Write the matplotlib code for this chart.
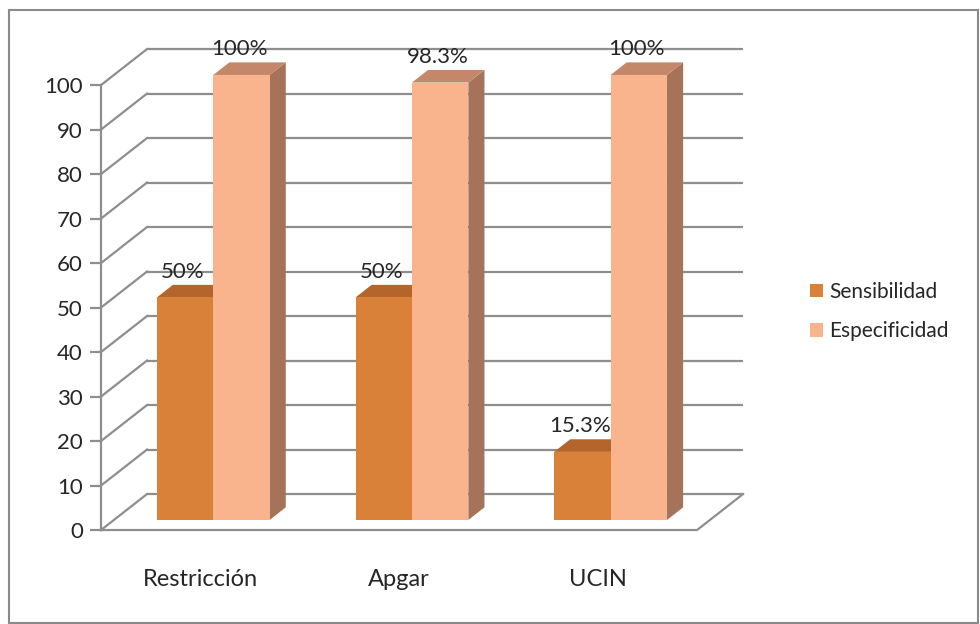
import matplotlib
matplotlib.use("Agg")
import matplotlib.pyplot as plt
from matplotlib.patches import Polygon, Patch, Rectangle

plt.rcParams["font.family"] = ["Lato", "DejaVu Sans"]

# ── data ──────────────────────────────────────────────────────────────────
categories = ["Restricción", "Apgar", "UCIN"]
series = ["Sensibilidad", "Especificidad"]
sensibilidad = [50, 50, 15.3]
especificidad = [100, 98.3, 100]
value_labels = [["50%", "50%", "15.3%"], ["100%", "98.3%", "100%"]]
yticks = list(range(0, 101, 10))

# ── 3-D look: oblique depth offset in data units ──────────────────────────
DX, DY = 0.2315, 8.09          # full depth of the wall / floor
D0, D1 = 0.28, 0.63            # front and back of the bars (fraction of depth)
BAR_W = 0.284
FRONT = ["#D98039", "#F9B48D"]
TOP = ["#B3652C", "#C4876A"]
SIDE = ["#9E5A2A", "#A4735A"]
GRID = "#8E8E8E"
TXT = "#262626"

fig = plt.figure(figsize=(9.8, 6.24), dpi=100)
ax = fig.add_axes([0.1031, 0.1506, 0.6082, 0.7131])
ax.set_xlim(0, len(categories))
ax.set_ylim(0, 100)

# walls: back gridlines, left wall diagonals, floor
for v in yticks:
    ax.plot([DX, len(categories) + DX], [v + DY, v + DY], color=GRID, lw=1.6,
            clip_on=False, zorder=1, solid_capstyle="butt")
    ax.plot([0, DX], [v, v + DY], color=GRID, lw=1.6, clip_on=False, zorder=1)
n = len(categories)
ax.plot([0, n, n + DX], [0, 0, DY], color=GRID, lw=1.6, clip_on=False, zorder=1)


def bar3d(x0, h, j):
    xf, yf = x0 + D0 * DX, D0 * DY
    xb, yb = x0 + D1 * DX, D1 * DY
    front = Rectangle((xf, yf), BAR_W, h, facecolor=FRONT[j], edgecolor="none")
    top = Polygon([(xf, yf + h), (xf + BAR_W, yf + h), (xb + BAR_W, yb + h), (xb, yb + h)],
                  closed=True, facecolor=TOP[j], edgecolor="none")
    side = Polygon([(xf + BAR_W, yf), (xb + BAR_W, yb), (xb + BAR_W, yb + h), (xf + BAR_W, yf + h)],
                   closed=True, facecolor=SIDE[j], edgecolor="none")
    for p in (side, top, front):
        p.set_clip_on(False)
        p.set_zorder(3)
        ax.add_patch(p)


for i in range(n):
    for j, vals in enumerate([sensibilidad, especificidad]):
        x0 = i + 0.5 - BAR_W + j * BAR_W
        bar3d(x0, vals[i], j)
        ax.text(x0 + D0 * DX + BAR_W / 2 - 0.01, vals[i] + D1 * DY + 3.0, value_labels[j][i],
                ha="center", va="center", fontsize=16, color=TXT, zorder=5)

# front axis
for s in ["top", "right", "bottom"]:
    ax.spines[s].set_visible(False)
ax.spines["left"].set_color(GRID)
ax.spines["left"].set_linewidth(1.6)
ax.set_yticks(yticks)
ax.tick_params(axis="y", direction="out", length=8, width=1.6, color=GRID,
               labelsize=16, labelcolor=TXT, pad=5)
ax.set_xticks([i + 0.5 for i in range(n)])
ax.set_xticklabels(categories)
ax.tick_params(axis="x", length=0, labelsize=17, labelcolor=TXT, pad=28)
ax.patch.set_alpha(0)

# legend
handles = [Patch(facecolor=c, edgecolor="none") for c in FRONT]
fig.legend(handles, series, loc="center left", bbox_to_anchor=(0.8265, 0.5008),
           frameon=False, fontsize=15, handlelength=0.63, handleheight=0.63,
           handletextpad=0.3, labelspacing=0.94, borderpad=0, borderaxespad=0,
           labelcolor=TXT)

# outer chart frame
fig.patches.append(Rectangle((0.0092, 0.0016), 0.9888, 0.9824, transform=fig.transFigure,
                             fill=False, edgecolor="#8A8A8A", lw=1.5))

fig.savefig("out.png", dpi=100)
